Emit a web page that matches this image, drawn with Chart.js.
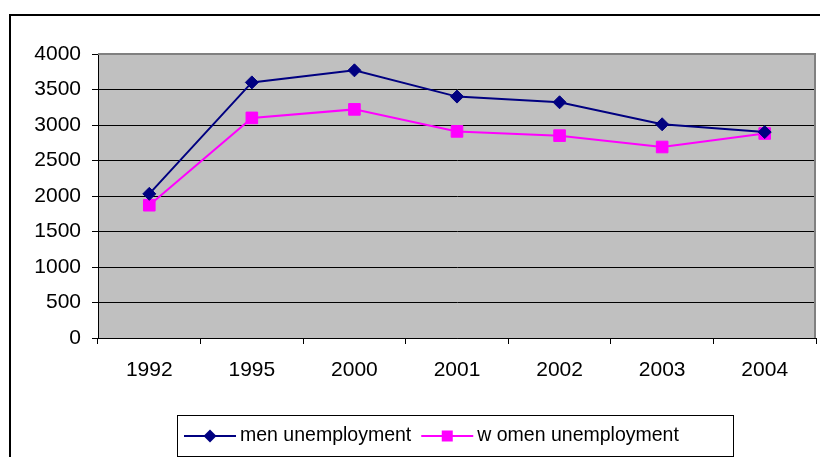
<!DOCTYPE html>
<html>
<head>
<meta charset="utf-8">
<script src="https://cdn.jsdelivr.net/npm/chart.js@4"></script>
<style>
html,body{margin:0;padding:0;background:#fff;}
#wrap{width:820px;height:457px;position:relative;}
</style>
</head>
<body>
<div id="wrap"><canvas id="c" width="820" height="457"></canvas></div>
<script>
const categories = ['1992','1995','2000','2001','2002','2003','2004'];
const menValues = [2030, 3600, 3770, 3400, 3320, 3010, 2900];
const womenValues = [1870, 3100, 3220, 2910, 2850, 2690, 2880];
const seriesLabels = ['men unemployment', 'w omen unemployment'];
const yTicks = [0, 500, 1000, 1500, 2000, 2500, 3000, 3500, 4000];

const FONT = '"Liberation Sans", Arial, sans-serif';

const framePlugin = {
  id: 'frame',
  beforeDraw(chart) {
    const ctx = chart.ctx, a = chart.chartArea;
    ctx.save();
    ctx.fillStyle = '#fff';
    ctx.fillRect(0, 0, chart.width, chart.height);
    ctx.strokeStyle = '#000';
    ctx.lineWidth = 2;
    ctx.beginPath();
    ctx.moveTo(10, 470);
    ctx.lineTo(10, 15);
    ctx.lineTo(830, 15);
    ctx.stroke();
    ctx.fillStyle = '#C0C0C0';
    ctx.fillRect(a.left, a.top, a.right - a.left, a.bottom - a.top);
    ctx.restore();
  },
  beforeDatasetsDraw(chart) {
    const ctx = chart.ctx, a = chart.chartArea;
    ctx.save();
    ctx.strokeStyle = '#808080';
    ctx.lineWidth = 2;
    ctx.beginPath();
    ctx.moveTo(a.left, a.top);
    ctx.lineTo(a.right - 1, a.top);
    ctx.lineTo(a.right - 1, a.bottom);
    ctx.stroke();
    ctx.restore();
  },
  afterDraw(chart) {
    const ctx = chart.ctx;
    ctx.save();
    const bx = 177.5, by = 415.5, bw = 556, bh = 41;
    ctx.strokeStyle = '#000';
    ctx.lineWidth = 1;
    ctx.strokeRect(bx, by, bw, bh);
    ctx.font = '19.5px ' + FONT;
    ctx.textBaseline = 'middle';
    ctx.fillStyle = '#000';
    let x = 184;
    const cy = 436;
    chart.data.datasets.forEach((ds, i) => {
      ctx.strokeStyle = ds.borderColor;
      ctx.lineWidth = 2;
      ctx.beginPath();
      ctx.moveTo(x, cy);
      ctx.lineTo(x + 52, cy);
      ctx.stroke();
      const mx = x + 26;
      ctx.fillStyle = ds.pointBackgroundColor;
      ctx.beginPath();
      if (ds.pointStyle === 'rectRot') {
        const r = 6.5;
        ctx.moveTo(mx, cy - r); ctx.lineTo(mx + r, cy); ctx.lineTo(mx, cy + r); ctx.lineTo(mx - r, cy);
        ctx.closePath();
      } else {
        ctx.rect(mx - 5.5, cy - 5.5, 11, 11);
      }
      ctx.fill();
      ctx.fillStyle = '#000';
      const tx = x + 56;
      ctx.fillText(ds.label, tx, cy);
      x = tx + ctx.measureText(ds.label).width + 10;
    });
    ctx.restore();
  }
};

new Chart(document.getElementById('c'), {
  type: 'line',
  data: {
    labels: categories,
    datasets: [
      {
        label: seriesLabels[0],
        data: menValues,
        borderColor: '#000080',
        backgroundColor: '#000080',
        pointBackgroundColor: '#000080',
        pointBorderColor: '#000080',
        pointStyle: 'rectRot',
        pointRadius: 6.5,
        pointBorderWidth: 1,
        borderWidth: 2,
        tension: 0
      },
      {
        label: seriesLabels[1],
        data: womenValues,
        borderColor: '#FF00FF',
        backgroundColor: '#FF00FF',
        pointBackgroundColor: '#FF00FF',
        pointBorderColor: '#FF00FF',
        pointStyle: 'rect',
        pointRadius: 8.2,
        pointBorderWidth: 1,
        borderWidth: 2,
        tension: 0
      }
    ]
  },
  options: {
    responsive: false,
    animation: false,
    devicePixelRatio: 1,
    layout: { autoPadding: false, padding: { top: 54, right: 4, bottom: 0, left: 0 } },
    plugins: { legend: { display: false }, tooltip: { enabled: false }, title: { display: false } },
    scales: {
      x: {
        type: 'category',
        offset: true,
        grid: { offset: true, drawOnChartArea: false, drawTicks: true, tickLength: 6, color: '#000', lineWidth: 1 },
        border: { display: true, color: '#000', width: 1 },
        ticks: { color: '#000', font: { family: FONT, size: 21 }, padding: 14, maxRotation: 0, autoSkip: false },
        afterFit(s) { s.height = 119; s.paddingLeft = 0; s.paddingRight = 0; }
      },
      y: {
        min: 0, max: 4000,
        afterBuildTicks(s) { s.ticks = yTicks.map(v => ({ value: v })); },
        grid: {
          color: ctx => (ctx.tick && ctx.tick.value === 4000) ? 'rgba(0,0,0,0)' : '#000',
          tickColor: '#000',
          tickLength: 6, lineWidth: 1
        },
        border: { display: true, color: '#000', width: 1 },
        ticks: { color: '#000', font: { family: FONT, size: 21 }, padding: 11, callback: v => String(v) },
        afterFit(s) { s.width = 98; s.paddingTop = 0; s.paddingBottom = 0; }
      }
    }
  },
  plugins: [framePlugin]
});
</script>
</body>
</html>
